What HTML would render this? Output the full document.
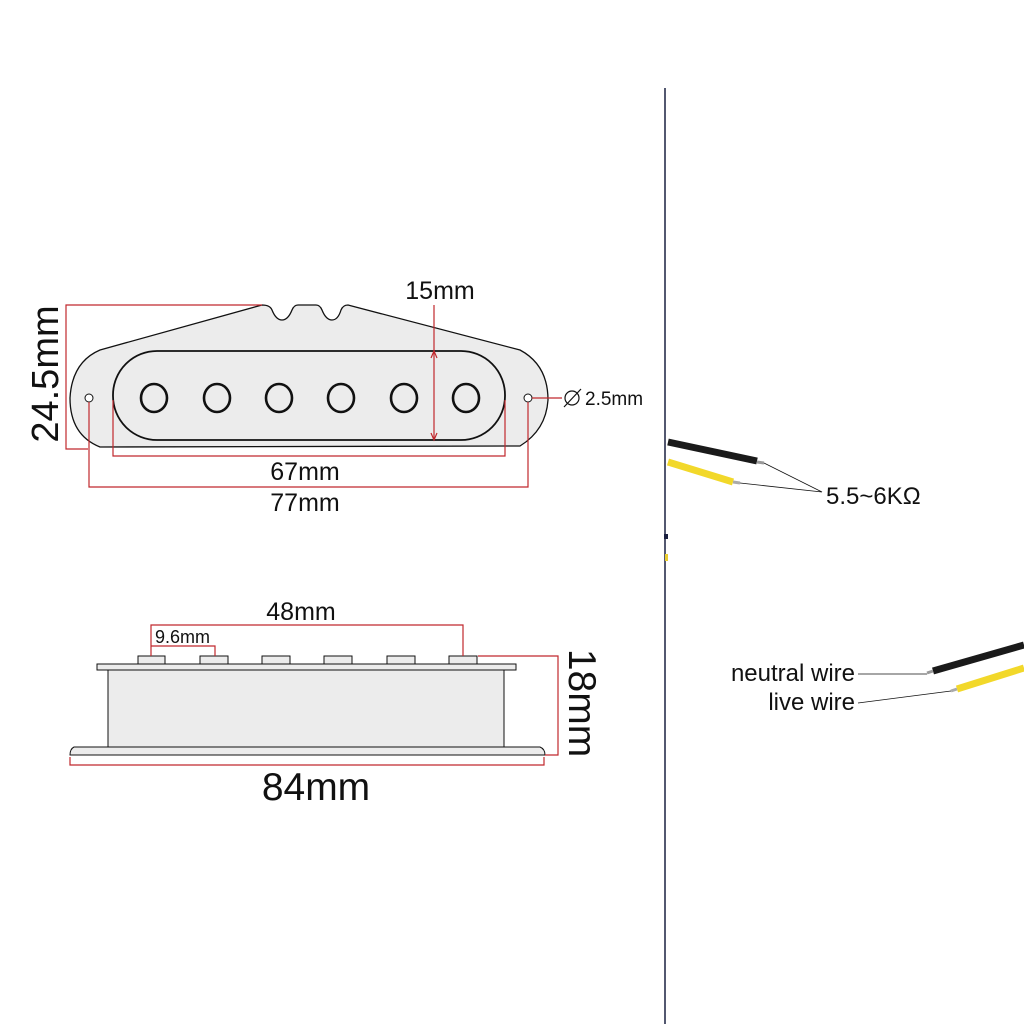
<!DOCTYPE html>
<html><head><style>body{margin:0;background:#fff}svg{display:block}text{font-family:"Liberation Sans","DejaVu Sans",sans-serif;fill:#111}</style></head><body>
<svg width="1024" height="1024" viewBox="0 0 1024 1024" xmlns="http://www.w3.org/2000/svg">
<rect width="1024" height="1024" fill="#fff"/>
<!-- top view -->
<path d="M100,350 L262,305 Q270,305 272,310 Q276,320 282,320 Q288,320 292,310 Q294,305 298,305 L316,305 Q320,305 322,310 Q326,320 332,320 Q338,320 341,310 Q343,305 348,305 L520,350 Q548,365 548,400 Q546,430 520,446 L100,447 Q70,435 70,398 Q72,362 100,350 Z" fill="#ececec" stroke="#111" stroke-width="1.3"/>
<rect x="113" y="351" width="392" height="89" rx="44" fill="#ececec" stroke="#111" stroke-width="1.8"/>
<g fill="none" stroke="#111" stroke-width="2.6">
<ellipse cx="154" cy="398" rx="13" ry="14"/><ellipse cx="217" cy="398" rx="13" ry="14"/><ellipse cx="279" cy="398" rx="13" ry="14"/><ellipse cx="341" cy="398" rx="13" ry="14"/><ellipse cx="404" cy="398" rx="13" ry="14"/><ellipse cx="466" cy="398" rx="13" ry="14"/>
</g>
<circle cx="89" cy="398" r="4" fill="#fff" stroke="#111"/><circle cx="528" cy="398" r="4" fill="#fff" stroke="#111"/>
<g fill="none" stroke="#c0282d" stroke-width="1.2">
<polyline points="262,305 66,305 66,449 88,449"/>
<polyline points="113,400 113,456 505,456 505,400"/>
<polyline points="89,402 89,487 528,487 528,402"/>
<line x1="434" y1="305" x2="434" y2="440"/>
<polyline points="431,358 434,351 437,358"/><polyline points="431,433 434,440 437,433"/>
<line x1="532" y1="398" x2="562" y2="398"/>
</g>
<circle cx="572" cy="398" r="7" fill="none" stroke="#111" stroke-width="1.2"/><line x1="564" y1="407" x2="581" y2="389" stroke="#111" stroke-width="1.2"/>
<text x="585" y="405" font-size="19" font-family="Liberation Serif">2.5mm</text>
<text x="440" y="299" font-size="25" text-anchor="middle">15mm</text>
<text x="305" y="480" font-size="25" text-anchor="middle">67mm</text>
<text x="305" y="511" font-size="25" text-anchor="middle">77mm</text>
<text transform="translate(58,374) rotate(-90)" font-size="38" text-anchor="middle">24.5mm</text>
<!-- side view -->
<g fill="#ececec" stroke="#111" stroke-width="1">
<rect x="138" y="656" width="27" height="8"/><rect x="200" y="656" width="28" height="8"/><rect x="262" y="656" width="28" height="8"/><rect x="324" y="656" width="28" height="8"/><rect x="387" y="656" width="28" height="8"/><rect x="449" y="656" width="28" height="8"/>
<rect x="97" y="664" width="419" height="6"/>
<rect x="108" y="670" width="396" height="77"/>
<path d="M74,747 L540,747 Q545,749 545,755 L70,755 Q70,749 74,747 Z"/>
</g>
<g fill="none" stroke="#c0282d" stroke-width="1.2">
<polyline points="151,656 151,625 463,625 463,656"/>
<polyline points="151,646 215,646 215,656"/>
<polyline points="478,656 558,656 558,755 545,755"/>
<polyline points="70,757 70,765 544,765 544,757"/>
</g>
<text x="301" y="620" font-size="25" text-anchor="middle">48mm</text>
<text x="155" y="643" font-size="18">9.6mm</text>
<text x="316" y="800" font-size="39" text-anchor="middle">84mm</text>
<text transform="translate(569,703) rotate(90)" font-size="39" text-anchor="middle">18mm</text>
<!-- divider -->
<line x1="665" y1="88" x2="665" y2="1024" stroke="#1a2040" stroke-width="1.5"/>
<rect x="664" y="534" width="4" height="5" fill="#1a2040"/><rect x="665" y="554" width="3" height="7" fill="#e8cc30"/>
<!-- wires top -->
<line x1="668" y1="442" x2="757" y2="461" stroke="#1a1a1a" stroke-width="7"/>
<line x1="757" y1="462" x2="764" y2="463" stroke="#999" stroke-width="3"/>
<line x1="668" y1="462" x2="733" y2="482" stroke="#f2d82a" stroke-width="7"/>
<line x1="733" y1="482" x2="740" y2="483" stroke="#aaa" stroke-width="3"/>
<polyline points="764,463 822,492 740,483" fill="none" stroke="#111" stroke-width="0.8"/>
<text x="826" y="504" font-size="24">5.5~6KΩ</text>
<!-- wires bottom -->
<line x1="933" y1="671" x2="1024" y2="645" stroke="#1a1a1a" stroke-width="7"/>
<line x1="927" y1="673" x2="933" y2="671" stroke="#999" stroke-width="3"/>
<line x1="957" y1="689" x2="1024" y2="668" stroke="#f2d82a" stroke-width="7"/>
<line x1="951" y1="691" x2="957" y2="689" stroke="#aaa" stroke-width="3"/>
<line x1="858" y1="674" x2="927" y2="674" stroke="#111" stroke-width="0.8"/>
<line x1="858" y1="703" x2="951" y2="691" stroke="#111" stroke-width="0.8"/>
<text x="855" y="681" font-size="24" text-anchor="end">neutral wire</text>
<text x="855" y="710" font-size="24" text-anchor="end">live wire</text>
</svg>
</body></html>
